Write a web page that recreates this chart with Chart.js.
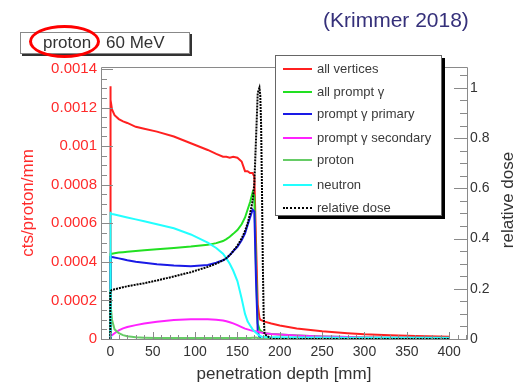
<!DOCTYPE html>
<html>
<head>
<meta charset="utf-8">
<script src="https://cdn.jsdelivr.net/npm/chart.js@4.4.1/dist/chart.umd.min.js"></script>
<style>
  html, body { margin:0; padding:0; background:#fff; }
  #wrap { position:relative; width:520px; height:387px; font-family:"Liberation Sans", Arial, sans-serif; overflow:hidden; }
  #c { position:absolute; left:0; top:0; }
  .abs { position:absolute; white-space:nowrap; }
  #title { left:323px; top:8px; font-size:21px; line-height:24px; color:#35307a; }
  #pbox { left:20px; top:32px; width:168px; height:20px; border:1px solid #888; box-shadow:2px 2px 0 #333; background:#fff; }
  #pbox span { position:absolute; top:-1px; font-size:17px; line-height:22px; color:#333; }
  #ellipse { left:29px; top:25px; width:71px; height:33px; box-sizing:border-box; border:3px solid #f00; border-radius:50%; }
  #legend { left:275px; top:55px; width:165px; height:159px; border:1px solid #666; background:#fff; box-shadow:3px 3px 0 #000; }
  .lrow { position:absolute; left:0; height:20px; width:165px; }
  .lsample { position:absolute; left:7px; top:9px; width:29px; height:0; border-top:2px solid #000; }
  .ltext { position:absolute; left:41px; top:0; font-size:13px; line-height:20px; color:#3a3a3a; }
  #rtitle { left:438px; top:190px; width:140px; text-align:center; font-size:17px; line-height:20px; color:#333; transform:rotate(-90deg); transform-origin:50% 50%; }
</style>
</head>
<body>
<div id="wrap">
  <canvas id="c" width="520" height="387"></canvas>
  <div class="abs" id="title">(Krimmer 2018)</div>
  <div class="abs" id="pbox"><span style="left:22px">proton</span><span style="left:85px">60 MeV</span></div>
  <div class="abs" id="ellipse"></div>
  <div class="abs" id="legend"></div>
  <div class="abs" id="rtitle">relative dose</div>
</div>
<script>
// ---------- data ----------
const depth = [0, 0, 0.5, 2, 5, 10, 15, 20, 30, 40, 55, 75, 95, 115, 125, 133, 137, 141, 145, 150, 155, 159, 162, 165, 168, 170, 172, 174, 176, 177, 178, 179, 180, 181, 182, 190, 200, 220, 250, 280, 300, 330, 360, 400];

const allVertices = [0, 0.00131, 0.00124, 0.00119, 0.00116, 0.00114, 0.001128, 0.00112, 0.0011, 0.00109, 0.001075, 0.00105, 0.001015, 0.00098, 0.00096, 0.000945, 0.000945, 0.00094, 0.000945, 0.00094, 0.00092, 0.00087, 0.00087, 0.00086, 0.00086, 0.00084, 0.0005, 0.00018, 0.00011, 0.0001, 0.000098, 0.000096, 0.000094, 0.000092, 0.00009, 0.00008, 0.00007, 0.000055, 0.00004, 0.00003, 0.000024, 0.000019, 0.000015, 0.000012];

const allPromptGamma = [0, 0.00044, 0.00044, 0.000442, 0.000445, 0.000448, 0.00045, 0.000452, 0.000456, 0.00046, 0.000465, 0.000472, 0.000479, 0.000488, 0.000497, 0.000508, 0.000518, 0.00053, 0.000545, 0.000565, 0.000595, 0.00063, 0.00067, 0.00071, 0.00076, 0.00074, 0.00036, 0.00008, 0.00005, 0.000045, 0.00004, 0.000037, 0.000034, 0.000032, 0.00003, 0.000026, 0.000023, 0.000018, 0.000013, 0.00001, 0.000008, 0.000007, 0.000006, 0.000005];

const promptGammaPrimary = [0, 0.00043, 0.000428, 0.000425, 0.000422, 0.000418, 0.000413, 0.000408, 0.0004, 0.000395, 0.000388, 0.000381, 0.000377, 0.000384, 0.000395, 0.000408, 0.000418, 0.000435, 0.000455, 0.000478, 0.000512, 0.000548, 0.00059, 0.00063, 0.00067, 0.00066, 0.0003, 0.00004, 0.00001, 0.000005, 0, 0, 0, 0, 0, 0, 0, 0, 0, 0, 0, 0, 0, 0];

const promptGammaSecondary = [0, 0.00001, 0.000012, 0.00002, 0.00003, 0.000045, 0.000055, 0.000062, 0.000072, 0.00008, 0.00009, 0.000098, 0.000102, 0.000102, 0.0001, 0.000096, 0.000092, 0.000087, 0.000081, 0.000072, 0.000062, 0.000054, 0.00005, 0.000046, 0.000043, 0.000041, 0.00004, 0.000038, 0.000036, 0.000035, 0.000034, 0.000033, 0.000032, 0.000031, 0.00003, 0.000026, 0.000023, 0.000018, 0.000013, 0.00001, 0.000008, 0.000007, 0.000006, 0.000005];

const protonVertices = [0, 0.00026, 0.00018, 0.0001, 0.00005, 0.00003, 0.00002, 0.000014, 0.000009, 0.000007, 0.000005, 0.000005, 0.000005, 0.000005, 0.000005, 0.000005, 0.000005, 0.000005, 0.000005, 0.000005, 0.000005, 0.000005, 0.000005, 0.000005, 0.000006, 0.000006, 0.000008, 0.000005, 0.000003, 0, 0, 0, 0, 0, 0, 0, 0, 0, 0, 0, 0, 0, 0, 0];

const neutronVertices = [0, 0.00066, 0.00065, 0.000648, 0.000645, 0.00064, 0.000635, 0.00063, 0.00062, 0.00061, 0.000595, 0.000574, 0.000542, 0.0005, 0.000472, 0.000442, 0.000418, 0.00039, 0.000355, 0.0003, 0.00021, 0.00013, 0.000092, 0.00007, 0.00005, 0.00004, 0.000032, 0.000025, 0.000018, 0.000016, 0.000014, 0.000012, 0.000011, 0.00001, 0.00001, 0.000009, 0.000009, 0.000008, 0.000008, 0.000007, 0.000007, 0.000006, 0.000006, 0.000006];

const relativeDose = [0, 0.19, 0.192, 0.195, 0.198, 0.202, 0.206, 0.21, 0.216, 0.222, 0.233, 0.249, 0.266, 0.287, 0.3, 0.313, 0.322, 0.334, 0.35, 0.372, 0.4, 0.43, 0.46, 0.5, 0.55, 0.62, 0.8, 0.98, 1.0, 0.97, 0.85, 0.6, 0.3, 0.1, 0.02, 0, 0, 0, 0, 0, 0, 0, 0, 0];

const seriesLabels = ['all vertices', 'all prompt \u03b3', 'prompt \u03b3 primary', 'prompt \u03b3 secondary', 'proton', 'neutron', 'relative dose'];
const xTicks = [0, 50, 100, 150, 200, 250, 300, 350, 400];
const yLeftTicks = [0, 0.0002, 0.0004, 0.0006, 0.0008, 0.001, 0.0012, 0.0014];
const yRightTicks = [0, 0.2, 0.4, 0.6, 0.8, 1];

// ---------- styles ----------
const FONT = '"Liberation Sans", Arial, sans-serif';
const colors = ['#ff2020', '#22e022', '#1a1ae6', '#ff22ff', '#66cc66', '#22ffff', '#000000'];
const seriesValues = [allVertices, allPromptGamma, promptGammaPrimary, promptGammaSecondary, protonVertices, neutronVertices, relativeDose];
const drawOrder = [6, 5, 4, 3, 2, 1, 0];

const datasets = seriesValues.map((vals, i) => ({
  label: seriesLabels[i],
  data: depth.map((d, k) => ({ x: d, y: vals[k] })),
  borderColor: colors[i],
  backgroundColor: colors[i],
  borderWidth: 2,
  borderDash: i === 6 ? [2, 1] : [],
  yAxisID: i === 6 ? 'y2' : 'y',
  pointRadius: 0,
  tension: 0,
  fill: false,
  order: drawOrder[i]
}));

// ---------- legend (HTML) ----------
const legendEl = document.getElementById('legend');
const rowTops = [3, 26, 48, 72, 94, 119, 142];
seriesLabels.forEach((lab, i) => {
  const row = document.createElement('div');
  row.className = 'lrow';
  row.style.top = rowTops[i] + 'px';
  const s = document.createElement('div');
  s.className = 'lsample';
  s.style.borderTop = i === 6 ? '2px dotted #000' : ('2px solid ' + colors[i]);
  const t = document.createElement('div');
  t.className = 'ltext';
  t.textContent = lab;
  row.appendChild(s); row.appendChild(t);
  legendEl.appendChild(row);
});

// ---------- frame + inward ticks (ROOT style) ----------
const framePlugin = {
  id: 'rootFrame',
  afterDraw(chart) {
    const { ctx, chartArea: a, scales } = chart;
    ctx.save();
    ctx.strokeStyle = '#8a8a8a';
    ctx.lineWidth = 1;
    ctx.beginPath();
    ctx.rect(Math.round(a.left) + 0.5, Math.round(a.top) + 0.5, Math.round(a.right - a.left), Math.round(a.bottom - a.top));
    ctx.stroke();
    ctx.beginPath();
    const xs = scales.x;
    for (let v = 0; v <= 420; v += 10) {
      const px = Math.round(xs.getPixelForValue(v)) + 0.5;
      const len = (v % 50 === 0) ? 7 : 4;
      ctx.moveTo(px, a.bottom); ctx.lineTo(px, a.bottom - len);
    }
    const ys = scales.y;
    for (let k = 0; k <= 28; k++) {
      const v = k * 0.00005;
      const py = Math.round(ys.getPixelForValue(v)) + 0.5;
      const len = (k % 4 === 0) ? 12 : 6;
      ctx.moveTo(a.left, py); ctx.lineTo(a.left + len, py);
    }
    const y2 = scales.y2;
    for (let k = 0; k <= 21; k++) {
      const v = k * 0.05;
      const py = Math.round(y2.getPixelForValue(v)) + 0.5;
      const len = (k % 4 === 0) ? 13 : 7;
      ctx.moveTo(a.right, py); ctx.lineTo(a.right - len, py);
    }
    ctx.stroke();
    ctx.restore();
  }
};

const fmt = (d) => (v) => String(+Number(v).toFixed(d));

new Chart(document.getElementById('c').getContext('2d'), {
  type: 'line',
  data: { datasets },
  options: {
    responsive: false,
    animation: false,
    devicePixelRatio: 1,
    layout: { padding: { top: 67, left: 0, right: 0, bottom: 0 } },
    plugins: { legend: { display: false }, tooltip: { enabled: false } },
    scales: {
      x: {
        type: 'linear', min: -11, max: 421,
        afterBuildTicks: (s) => { s.ticks = xTicks.map(v => ({ value: v })); },
        ticks: { color: '#333', font: { family: FONT, size: 14 }, padding: 5, maxRotation: 0, autoSkip: false, callback: fmt(0) },
        grid: { display: false, drawTicks: false },
        border: { display: false },
        title: { display: true, text: 'penetration depth [mm]', color: '#333', font: { family: FONT, size: 17 }, padding: { top: 0, bottom: 2 } },
        afterFit: (s) => { s.height = 48; }
      },
      y: {
        type: 'linear', position: 'left', min: 0, max: 0.00141,
        afterBuildTicks: (s) => { s.ticks = yLeftTicks.map(v => ({ value: v })); },
        ticks: { color: '#ff2a2a', font: { family: FONT, size: 15 }, padding: 4, autoSkip: false, callback: fmt(4) },
        grid: { display: false, drawTicks: false },
        border: { display: false },
        title: { display: true, text: 'cts/proton/mm', color: '#ff2a2a', font: { family: FONT, size: 17 }, padding: { top: 18, bottom: 0 } },
        afterFit: (s) => { s.width = 101; }
      },
      y2: {
        type: 'linear', position: 'right', min: 0, max: 1.083,
        afterBuildTicks: (s) => { s.ticks = yRightTicks.map(v => ({ value: v })); },
        ticks: { color: '#333', font: { family: FONT, size: 14 }, padding: 3, autoSkip: false, callback: fmt(1) },
        grid: { display: false, drawTicks: false },
        border: { display: false },
        afterFit: (s) => { s.width = 53; }
      }
    }
  },
  plugins: [framePlugin]
});
</script>
</body>
</html>
